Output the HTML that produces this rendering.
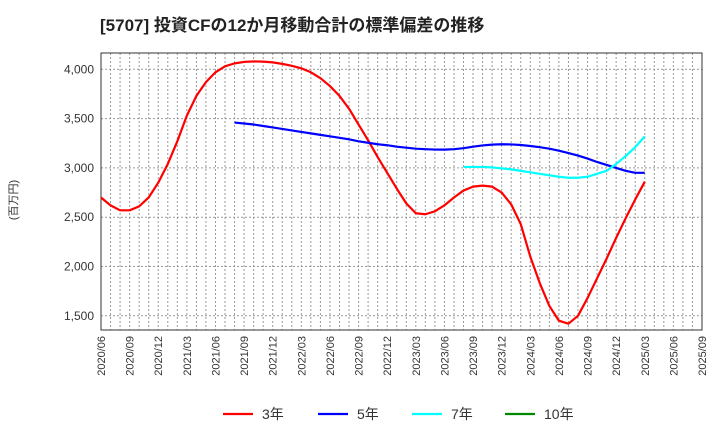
<!DOCTYPE html>
<html><head><meta charset="utf-8"><style>
body{margin:0;background:#fff;font-family:"Liberation Sans","Noto Sans CJK JP",sans-serif;}
</style></head><body>
<svg id="chart" width="720" height="440" viewBox="0 0 720 440" xmlns="http://www.w3.org/2000/svg" font-family="Liberation Sans, Noto Sans CJK JP, sans-serif">
<text x="100" y="31" font-size="17" font-weight="bold" fill="#222">[5707]  投資CFの12か月移動合計の標準偏差の推移</text>
<text transform="translate(17,200) rotate(-90)" font-size="11" fill="#333" text-anchor="middle">(百万円)</text>
<g id="grid"></g><g id="axes"></g><g id="series"></g><g id="legend"></g>
</svg>
<script>
const yTicks=[1500,2000,2500,3000,3500,4000];
const yTickLabels=["1,500","2,000","2,500","3,000","3,500","4,000"];
const xTickLabels=["2020/06","2020/09","2020/12","2021/03","2021/06","2021/09","2021/12","2022/03","2022/06","2022/09","2022/12","2023/03","2023/06","2023/09","2023/12","2024/03","2024/06","2024/09","2024/12","2025/03","2025/06","2025/09"];
const s3Start=0;
const s3=[2700,2620,2570,2570,2610,2700,2850,3040,3270,3530,3730,3870,3970,4030,4060,4075,4080,4078,4070,4055,4035,4010,3970,3910,3830,3730,3600,3440,3280,3110,2950,2790,2640,2540,2530,2560,2620,2700,2770,2810,2820,2810,2750,2630,2430,2100,1830,1600,1450,1420,1500,1680,1880,2080,2290,2490,2680,2860];
const s5Start=14;
const s5=[3460,3450,3440,3425,3410,3395,3380,3365,3350,3335,3320,3305,3290,3270,3255,3240,3230,3215,3205,3195,3190,3186,3185,3190,3200,3215,3228,3236,3240,3238,3232,3222,3210,3195,3175,3150,3125,3095,3060,3030,3000,2970,2950,2950];
const s7Start=38;
const s7=[3010,3010,3010,3005,2995,2985,2970,2955,2940,2925,2910,2900,2900,2910,2940,2970,3040,3120,3210,3320];
const s10Start=0;
const s10=[];
const L=101,R=702,T=53,B=330,NM=63;
const xS=m=>L+(R-L)*m/NM;
const yS=v=>69.3+(4000-v)*49.3/500;
const NS="http://www.w3.org/2000/svg";
function mk(tag,attrs,parent){const e=document.createElementNS(NS,tag);for(const k in attrs)e.setAttribute(k,attrs[k]);parent.appendChild(e);return e;}
const grid=document.getElementById('grid'),axes=document.getElementById('axes'),series=document.getElementById('series'),legend=document.getElementById('legend');
for(let m=1;m<NM;m++){const g=mk('line',{x1:xS(m),x2:xS(m),y1:T,y2:B,stroke:'#999','stroke-width':1,'stroke-dasharray':'2,2'},grid);

}
yTicks.forEach((v,i)=>{const g=mk('line',{x1:L,x2:R,y1:yS(v),y2:yS(v),stroke:'#999','stroke-width':1,'stroke-dasharray':'2,2'},grid);


const t=mk('text',{x:L-7,y:yS(v)+4,'font-size':12,'text-anchor':'end',fill:'#333'},axes);t.textContent=yTickLabels[i];

});
xTickLabels.forEach((lab,i)=>{const x=xS(i*3);const t=mk('text',{transform:`translate(${x+4},${B+6}) rotate(-90)`,'font-size':11,'text-anchor':'end',fill:'#333'},axes);t.textContent=lab;

});
const fr=mk('rect',{x:L,y:T,width:R-L,height:B-T,fill:'none',stroke:'#333','stroke-width':1},axes);


function line(data,start,color,name){if(!data.length)return;const p=mk('polyline',{points:data.map((v,i)=>xS(start+i)+','+yS(v)).join(' '),fill:'none',stroke:color,'stroke-width':2.2,'stroke-linejoin':'round'},series);

}
line(s3,s3Start,'#f00','series-3yr');
line(s5,s5Start,'#00f','series-5yr');
line(s7,s7Start,'#0ff','series-7yr');
line(s10,s10Start,'#080','series-10yr');
const leg=[['3年','#f00',223],['5年','#00f',318],['7年','#0ff',412],['10年','#080',505]];
leg.forEach(([lab,c,x])=>{const g=mk('g',{},legend);


mk('line',{x1:x,x2:x+30,y1:414,y2:414,stroke:c,'stroke-width':2.2},g);
const t=mk('text',{x:x+39,y:419,'font-size':14,fill:'#333'},g);t.textContent=lab;});
</script>
</body></html>
